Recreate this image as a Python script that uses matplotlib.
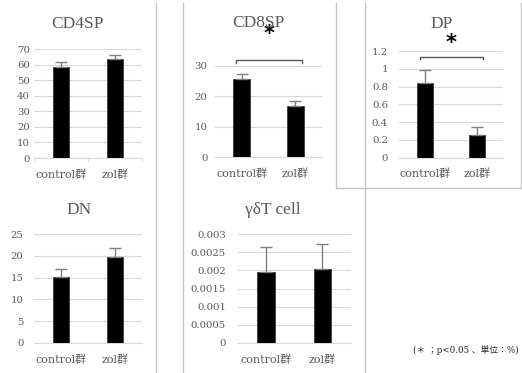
import numpy as np
import matplotlib
matplotlib.use("Agg")
import matplotlib.pyplot as plt
from matplotlib.ticker import FuncFormatter
from matplotlib.lines import Line2D

W, H = 522, 373

categories = ["control群", "zol群"]

cd4_mean = [58.2, 63.4]
cd4_err = [3.4, 2.6]
cd8_mean = [25.7, 16.7]
cd8_err = [1.6, 1.7]
dp_mean = [0.837, 0.255]
dp_err = [0.149, 0.094]
dn_mean = [15.1, 19.7]
dn_err = [1.9, 2.2]
gd_mean = [0.00195, 0.00205]
gd_err = [0.00070, 0.00067]

cd4_ticks = [0, 10, 20, 30, 40, 50, 60, 70]
cd8_ticks = [0, 10, 20, 30]
dp_ticks = [0, 0.2, 0.4, 0.6, 0.8, 1.0, 1.2]
dn_ticks = [0, 5, 10, 15, 20, 25]
gd_ticks = [0, 0.0005, 0.001, 0.0015, 0.002, 0.0025, 0.003]

note = "(＊ ；p<0.05 、単位：%)"

GRAY = "#595959"
LAB_FONT = ["DejaVu Serif", "Noto Sans CJK JP"]

fig = plt.figure(figsize=(W / 100, H / 100), dpi=100)


def px(x0, y0, x1, y1):
    # pixel box -> figure fraction
    return [x0 / W, 1 - y1 / H, (x1 - x0) / W, (y1 - y0) / H]


def panel(box, title, title_xy, means, errs, ticks, pad):
    ax = fig.add_axes(px(*box))
    x = np.arange(len(categories))
    ax.bar(x, means, width=0.31, color="black", edgecolor="#3a3a3a",
           linewidth=0.6, zorder=3)
    ax.errorbar(x, means, yerr=[np.zeros(len(errs)), errs], fmt="none",
                ecolor="#7f7f7f", elinewidth=1, capsize=4, capthick=1, zorder=4)
    ax.set_xlim(-0.5, 1.5)
    ax.set_ylim(0, ticks[-1])
    ax.set_yticks(ticks)
    ax.yaxis.set_major_formatter(FuncFormatter(lambda v, p: "%g" % v))
    ax.grid(axis="y", color="#d9d9d9", lw=0.8, zorder=0)
    ax.set_axisbelow(True)
    for s in ["top", "right", "left"]:
        ax.spines[s].set_visible(False)
    ax.spines["bottom"].set_color("#d9d9d9")
    ax.set_facecolor("none")
    ax.tick_params(axis="y", length=0, pad=pad, labelsize=7.3, labelcolor=GRAY)
    ax.set_xticks(x, categories)
    ax.tick_params(axis="x", length=0, pad=8, labelsize=8, labelcolor=GRAY)
    for lab in ax.get_xticklabels() + ax.get_yticklabels():
        lab.set_family(LAB_FONT)
    fig.text(title_xy[0] / W, 1 - title_xy[1] / H, title, ha="center",
             va="center", fontsize=12.5, color=GRAY, family="Liberation Serif")
    return ax


def bracket(ax, y, drop, star_y):
    x0, x1 = -0.1, 1.12
    ax.plot([x0, x0, x1, x1], [y - drop, y, y, y - drop], color=GRAY, lw=1,
            clip_on=False, zorder=5)
    ax.text((x0 + x1) / 2, star_y, "*", ha="center", va="center", fontsize=15,
            fontweight="bold", color="black", clip_on=False)


ax1 = panel((34, 49, 142, 158), "CD4SP", (78, 24), cd4_mean, cd4_err, cd4_ticks, 3)
ax1.set_xticks([-0.5, 0.5, 1.5], minor=True)
ax1.tick_params(axis="x", which="minor", length=3, color="#d9d9d9")

ax2 = panel((215, 65.7, 322, 157.3), "CD8SP", (258, 23), cd8_mean, cd8_err, cd8_ticks, 5.5)
bracket(ax2, 31.9, 0.9, 40.5)

ax3 = panel((399, 51, 503, 157.7), "DP", (442, 24), dp_mean, dp_err, dp_ticks, 8)
bracket(ax3, 1.136, 0.03, 1.29)

ax4 = panel((34, 234, 142, 343), "DN", (79, 210), dn_mean, dn_err, dn_ticks, 7.7)
ax5 = panel((237.7, 234, 350.7, 343), "γδT cell", (273, 210), gd_mean, gd_err, gd_ticks, 8.6)

# panel frames
frame = dict(color="#c4c4c4", lw=1)
for (xa, ya, xb, yb) in [(155.5, 3, 155.5, 373), (183.3, 3, 183.3, 373),
                         (336, 3, 336, 187.5), (364.5, 3, 364.5, 373),
                         (336, 187.5, 521, 187.5), (521, 3, 521, 187.5)]:
    fig.add_artist(Line2D([xa / W, xb / W], [1 - ya / H, 1 - yb / H], **frame))

fig.text(519 / W, 1 - 350 / H, note, ha="right", va="center", fontsize=6.3,
         color="#262626", family=LAB_FONT)

fig.savefig("out.png", dpi=100)
